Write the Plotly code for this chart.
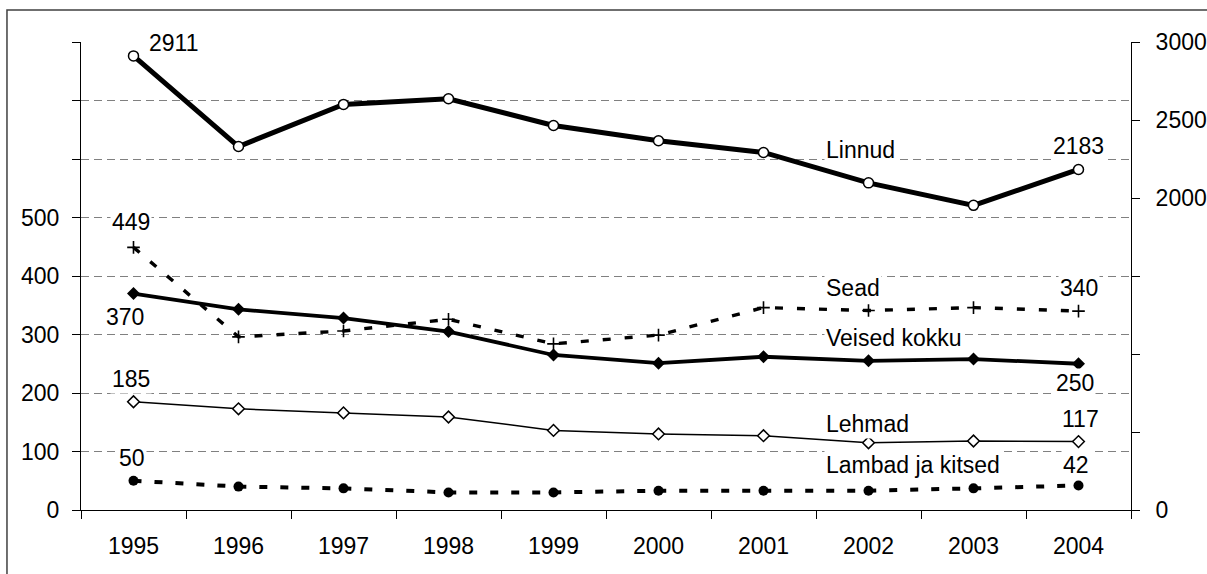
import plotly.graph_objects as go

years = ["1995", "1996", "1997", "1998", "1999", "2000", "2001", "2002", "2003", "2004"]
linnud = [2911, 2330, 2600, 2636, 2465, 2367, 2292, 2097, 1953, 2183]
sead = [449, 296, 306, 326, 284, 299, 346, 341, 346, 340]
veised = [370, 343, 328, 305, 265, 251, 262, 255, 258, 250]
lehmad = [185, 173, 166, 159, 136, 130, 127, 115, 118, 117]
lambad = [50, 40, 37, 30, 30, 33, 33, 33, 37, 42]

left_ticks = [0, 100, 200, 300, 400, 500, 600, 700, 800]
left_labels = ["0", "100", "200", "300", "400", "500", "", "", ""]
right_ticks = [0, 500, 1000, 1500, 2000, 2500, 3000]
right_labels = ["0", "", "", "", "2000", "2500", "3000"]

FONT = "Liberation Sans, Arial, sans-serif"
FS = 23

fig = go.Figure()

fig.add_trace(go.Scatter(
    x=years, y=lehmad, mode="lines+markers", name="Lehmad",
    line=dict(color="black", width=1.5),
    marker=dict(symbol="diamond", size=9, color="white", line=dict(color="black", width=1.5)),
))
fig.add_trace(go.Scatter(
    x=years, y=lambad, mode="lines+markers", name="Lambad ja kitsed",
    line=dict(color="black", width=4, dash="8px,13px"),
    marker=dict(symbol="circle", size=10, color="black"),
))
fig.add_trace(go.Scatter(
    x=years, y=sead, mode="lines+markers", name="Sead",
    line=dict(color="black", width=3.4, dash="8px,14px"),
    marker=dict(symbol="cross-thin", size=9, color="black", line=dict(color="black", width=1.6)),
))
fig.add_trace(go.Scatter(
    x=years, y=veised, mode="lines+markers", name="Veised kokku",
    line=dict(color="black", width=3.8),
    marker=dict(symbol="diamond", size=10, color="black"),
))
fig.add_trace(go.Scatter(
    x=years, y=linnud, mode="lines+markers", name="Linnud", yaxis="y2",
    line=dict(color="black", width=5),
    marker=dict(symbol="circle", size=10, color="white", line=dict(color="black", width=1.5)),
))

first, last = 0, len(years) - 1
# value labels anchored to the first / last data points (category index on x)
value_labels = [
    (first, linnud[first], "y2", 40, 13),
    (last, linnud[last], "y2", 0, 23),
    (first, sead[first], "y", -3, 25),
    (last, sead[last], "y", 0, 23),
    (first, veised[first], "y", -9, -23),
    (last, veised[last], "y", -4, -19),
    (first, lehmad[first], "y", -3, 23),
    (last, lehmad[last], "y", 2, 23),
    (first, lambad[first], "y", -2, 23),
    (last, lambad[last], "y", -3, 20),
]
for xi, y, yref, dx, dy in value_labels:
    fig.add_annotation(x=xi, y=y, xref="x", yref=yref, text=str(y), showarrow=False,
                       xshift=dx, yshift=dy, bgcolor="white", borderpad=1,
                       font=dict(family=FONT, size=FS, color="black"))

# series names
series_names = [
    ("Linnud", 0.769),
    ("Sead", 0.474),
    ("Veised kokku", 0.3675),
    ("Lehmad", 0.1838),
    ("Lambad ja kitsed", 0.0962),
]
for name, yp in series_names:
    fig.add_annotation(x=0.708, y=yp, xref="paper", yref="paper", text=name,
                       showarrow=False, xanchor="left", yanchor="middle",
                       bgcolor="white", borderpad=1,
                       font=dict(family=FONT, size=FS, color="black"))

# outer frame (left and top edges visible)
fig.add_shape(type="rect", xref="paper", yref="paper",
              x0=-0.0705, y0=-0.3, x1=1.2, y1=1.0684,
              line=dict(color="#404040", width=1.5), layer="below")

fig.update_layout(
    width=1207, height=574,
    margin=dict(l=81, r=76, t=42, b=64),
    paper_bgcolor="white", plot_bgcolor="white",
    showlegend=False,
    font=dict(family=FONT, size=FS, color="black"),
    xaxis=dict(
        type="category", range=[-0.5, 9.5], automargin=False,
        showline=True, linecolor="black", linewidth=1,
        ticks="outside", tickson="boundaries", ticklen=8, tickcolor="black",
        showgrid=False, ticklabelstandoff=15,
        tickfont=dict(family=FONT, size=FS, color="black"),
    ),
    yaxis=dict(
        range=[0, 800], tickmode="array", tickvals=left_ticks, ticktext=left_labels,
        automargin=False,
        showline=True, linecolor="black", linewidth=1,
        ticks="outside", ticklen=8, tickcolor="black",
        showgrid=True, gridcolor="#808080", gridwidth=1, griddash="8px,5px",
        zeroline=False, ticklabelstandoff=8,
        tickfont=dict(family=FONT, size=FS, color="black"),
    ),
    yaxis2=dict(
        range=[0, 3000], overlaying="y", side="right", automargin=False,
        tickmode="array", tickvals=right_ticks, ticktext=right_labels,
        showline=True, linecolor="black", linewidth=1,
        ticks="outside", ticklen=8, tickcolor="black",
        showgrid=False, zeroline=False, ticklabelstandoff=11,
        tickfont=dict(family=FONT, size=FS, color="black"),
    ),
)

fig.write_html("out.html", config={"displayModeBar": False},
               post_script="document.body.style.margin='0';")
